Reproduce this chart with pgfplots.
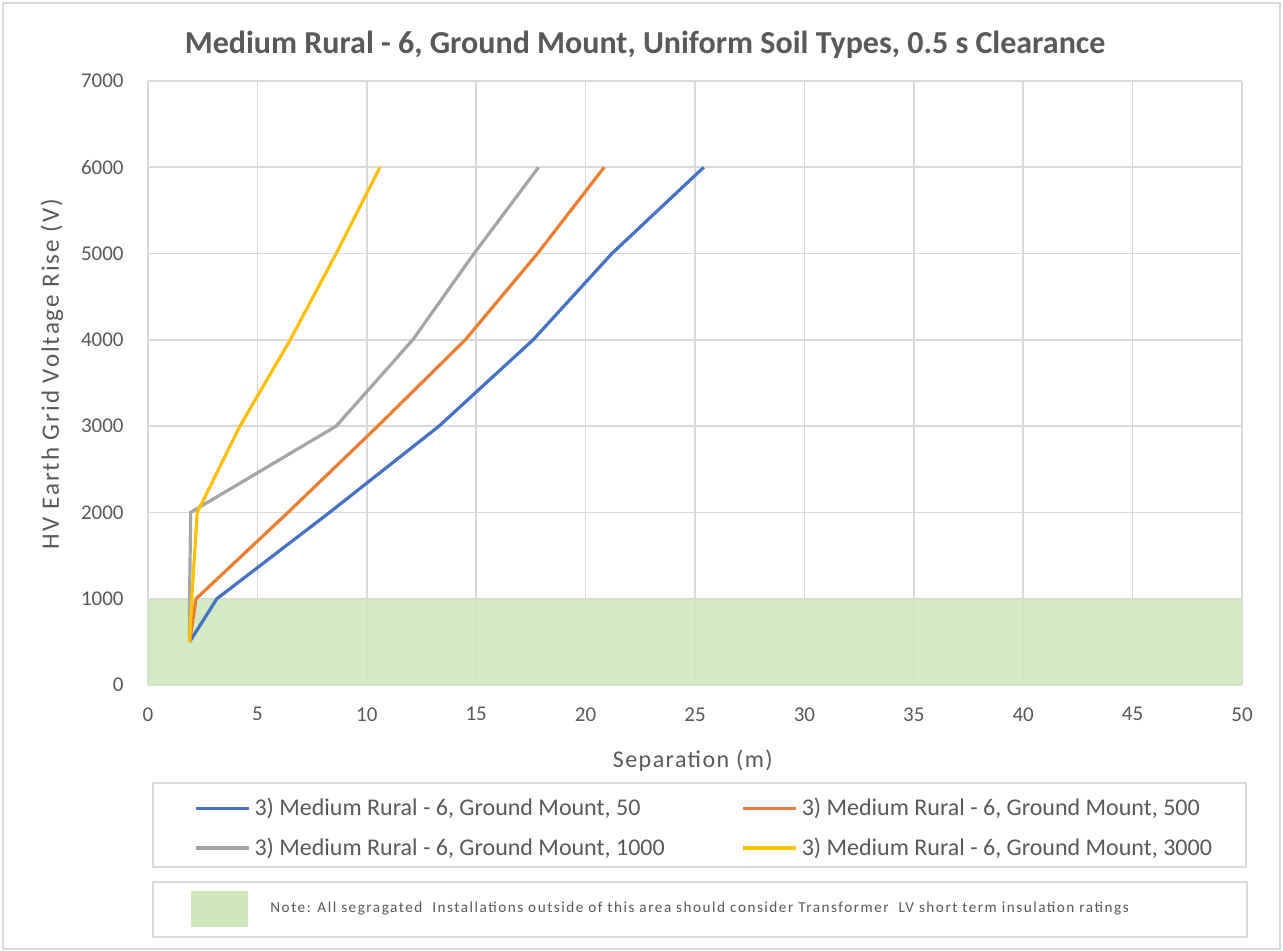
\documentclass[border=0pt]{standalone}
\usepackage{fontspec}
\setmainfont{Carlito}
\usepackage{pgfplots}
\pgfplotsset{compat=1.18}
\definecolor{cblue}{RGB}{68,114,196}
\definecolor{corange}{RGB}{237,125,49}
\definecolor{cgray}{RGB}{165,165,165}
\definecolor{cyellow}{RGB}{255,192,0}
\definecolor{areagreen}{RGB}{206,232,188}
\definecolor{txt}{RGB}{89,89,89}
\definecolor{gridc}{RGB}{217,217,217}
\begin{document}
\begin{tikzpicture}
\useasboundingbox (-74pt,-133pt) rectangle (567.5pt,342.5pt);
\fill[white] (-74pt,-133pt) rectangle (567.5pt,342.5pt);
\draw[gridc, line width=0.8pt] (-72.5pt,-132pt) rectangle (566pt,341pt);
\begin{axis}[
  at={(0pt,0pt)}, anchor=south west,
  scale only axis, width=547pt, height=302pt,
  xmin=0, xmax=50, ymin=0, ymax=7000,
  xtick distance=5, ytick distance=1000,
  grid=major, grid style={gridc, line width=0.8pt},
  axis line style={draw=none},
  major tick length=0pt,
  tick style={draw=none},
  ticklabel style={font=\fontsize{10.5}{12}\selectfont, text=txt, inner sep=0pt},
  /pgf/number format/assume math mode=true,
  /pgf/number format/set thousands separator={},
  yticklabel style={xshift=-12pt},
  xticklabel style={yshift=-11pt},
  title={\textbf{Medium Rural - 6, Ground Mount, Uniform Soil Types, 0.5 s Clearance}},
  every axis title/.style={at={(axis description cs:0.4543,1.0596)}, anchor=center, font=\fontsize{16}{18}\selectfont, text=txt},
  xlabel={Separation (m)},
  ylabel={HV Earth Grid Voltage Rise (V)},
  every axis x label/.style={at={(axis description cs:0.498,-0.126)}, anchor=center, font=\fontsize{12}{14}\selectfont\addfontfeature{LetterSpace=6}, text=txt},
  every axis y label/.style={at={(axis description cs:-0.0878,0.515)}, anchor=center, rotate=90, font=\fontsize{12.5}{15}\selectfont\addfontfeature{LetterSpace=8}, text=txt},
  legend columns=2,
  legend cell align=left,
  legend image code/.code={\draw[#1] (0pt,0pt) -- (26.5pt,0pt);},
  legend style={at={(axis description cs:0.042,-0.180)}, anchor=north west, draw=none, fill=none, inner sep=0pt, row sep=5.5pt, font=\fontsize{12}{14}\selectfont, text=txt},
]
\addplot[fill=areagreen, fill opacity=0.88, draw=none, forget plot] coordinates {(0,0) (0,1000) (50,1000) (50,0)};
\addplot[cblue, line width=1.6pt] coordinates {(1.9,500) (3.15,1000) (8.3,2000) (13.3,3000) (17.6,4000) (21.2,5000) (25.4,6000)};
\addlegendentry{\makebox[241.5pt][l]{3) Medium Rural - 6, Ground Mount, 50}}
\addplot[corange, line width=1.6pt] coordinates {(1.9,500) (2.2,1000) (6.4,2000) (10.5,3000) (14.5,4000) (17.8,5000) (20.85,6000)};
\addlegendentry{3) Medium Rural - 6, Ground Mount, 500}
\addplot[cgray, line width=1.6pt] coordinates {(1.9,500) (1.9,1000) (1.95,2000) (8.6,3000) (12.1,4000) (14.9,5000) (17.85,6000)};
\addlegendentry{\makebox[241.5pt][l]{3) Medium Rural - 6, Ground Mount, 1000}}
\addplot[cyellow, line width=1.6pt] coordinates {(1.9,500) (2.0,1000) (2.25,2000) (4.2,3000) (6.5,4000) (8.6,5000) (10.6,6000)};
\addlegendentry{3) Medium Rural - 6, Ground Mount, 3000}
\end{axis}
\draw[gridc, line width=0.8pt] (2.5pt,-49pt) rectangle (549pt,-91pt);
\draw[gridc, line width=0.8pt] (2.5pt,-98.5pt) rectangle (549.5pt,-126pt);
\fill[areagreen] (21.5pt,-103pt) rectangle (50pt,-121pt);
\node[anchor=west, text=txt, inner sep=0pt, font=\fontsize{7.6}{9}\selectfont\addfontfeature{LetterSpace=10}] at (61pt,-112pt) {Note: All segragated\ \ Installations outside of this area should consider Transformer\ \ LV short term insulation ratings};
\end{tikzpicture}
\end{document}
